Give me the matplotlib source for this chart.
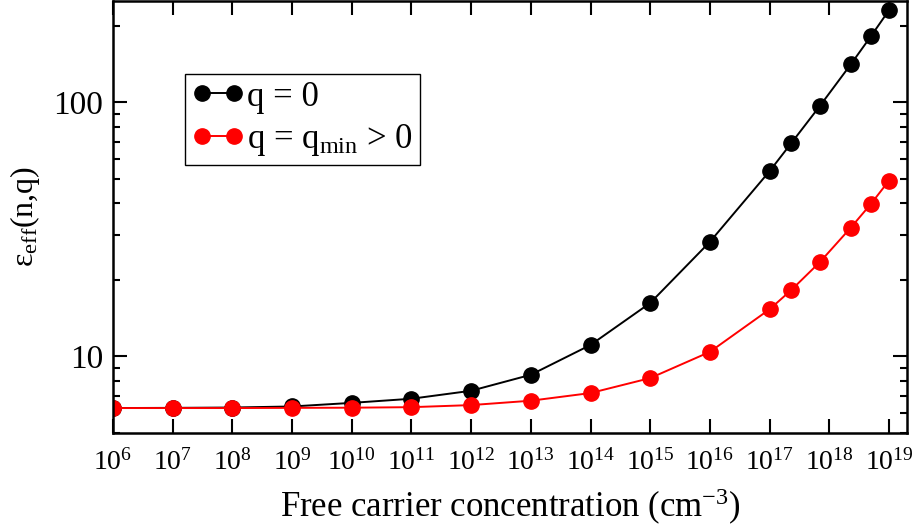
import numpy as np
import matplotlib
matplotlib.use("Agg")
import matplotlib.pyplot as plt
from matplotlib.ticker import FixedLocator, LogLocator, NullLocator, NullFormatter, FuncFormatter

plt.rcParams['font.family'] = ['Liberation Serif', 'DejaVu Serif']
plt.rcParams['mathtext.fontset'] = 'custom'
plt.rcParams['mathtext.rm'] = 'Liberation Serif'
plt.rcParams['mathtext.it'] = 'Liberation Serif:italic'

# carrier concentration (cm^-3)
n_conc = [1e6, 1e7, 1e8, 1e9, 1e10, 1e11, 1e12, 1e13, 1e14, 1e15, 1e16,
          1e17, 2.3e17, 7e17, 2.3e18, 5e18, 1e19]
# effective dielectric constant, q = 0
eps_q0 = [6.25, 6.26, 6.28, 6.34, 6.55, 6.8, 7.31, 8.45, 11.07, 16.2, 28.2,
          53.5, 68.9, 96.8, 141, 182, 230]
# effective dielectric constant, q = q_min
eps_qmin = [6.25, 6.25, 6.25, 6.26, 6.27, 6.3, 6.42, 6.68, 7.16, 8.2, 10.4,
            15.3, 18.2, 23.5, 32.1, 39.8, 49.1]

# decade ticks on the concentration axis
x_exponents = list(range(6, 20))

fig = plt.figure(figsize=(9.14, 5.27), dpi=100)
ax = fig.add_axes([0.1236, 0.179, 0.8687, 0.819])

ax.plot(n_conc, eps_q0, '-o', color='black', lw=1.4, ms=11, label='q = 0')
ax.plot(n_conc, eps_qmin, '-o', color='red', lw=1.4, ms=11,
        label=r'q = q$_{\mathregular{min}}$ > 0')

ax.set_xscale('log')
ax.set_yscale('log')
ax.set_xlim(1e6, 2e19)
ax.set_ylim(5, 250)

ax.xaxis.set_major_locator(FixedLocator([10.0 ** e for e in x_exponents]))
ax.xaxis.set_minor_locator(NullLocator())
ax.xaxis.set_major_formatter(FuncFormatter(
    lambda v, pos: r'$\mathregular{10^{%d}}$' % round(np.log10(v))))
ax.yaxis.set_major_locator(FixedLocator([10, 100]))
ax.yaxis.set_major_formatter(FuncFormatter(lambda v, pos: '%g' % v))
ax.yaxis.set_minor_locator(LogLocator(base=10, subs=np.arange(2, 10), numticks=20))
ax.yaxis.set_minor_formatter(NullFormatter())

ax.tick_params(which='both', direction='in', top=True, right=True, width=1.5)
ax.tick_params(which='major', length=10, labelsize=20, pad=12)
ax.tick_params(axis='y', which='major', labelsize=24, pad=7)
ax.tick_params(which='minor', length=5)
for s in ax.spines.values():
    s.set_linewidth(1.8)

ax.set_xlabel(r'Free carrier concentration (cm$^{\mathregular{-3}}$)', fontsize=25, labelpad=8)
ax.set_ylabel(r'ε$_{\mathregular{eff}}$(n,q)', fontsize=23, labelpad=8)

leg = ax.legend(loc='upper left', bbox_to_anchor=(0.0907, 0.832), borderaxespad=0,
                numpoints=2, fontsize=25, handlelength=1.5, handletextpad=0.1,
                labelspacing=0.25, borderpad=0.2, fancybox=False, framealpha=1)
leg.get_frame().set_edgecolor('black')
leg.get_frame().set_linewidth(1.0)

fig.savefig('out.png', dpi=100)
